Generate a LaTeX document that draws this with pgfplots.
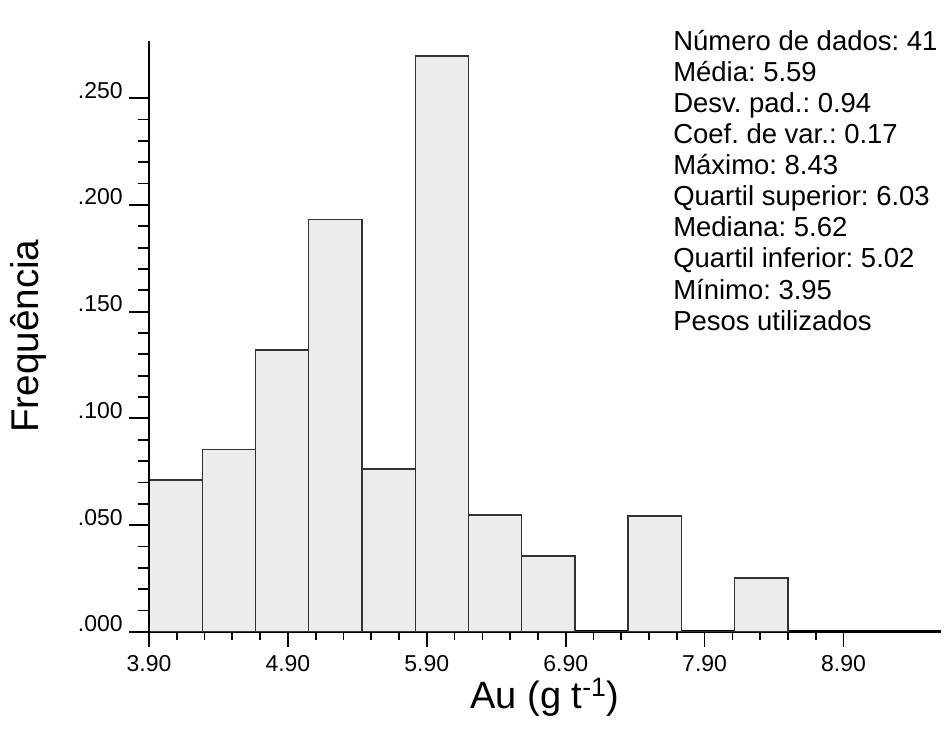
\documentclass[border=0pt]{standalone}
\usepackage{pgfplots}
\pgfplotsset{compat=1.18}
\usepackage{fontspec}
\setmainfont{Liberation Sans}
\frenchspacing
\definecolor{barfill}{RGB}{236,236,236}
\definecolor{baredge}{RGB}{50,50,50}

\begin{document}
\begin{tikzpicture}
\path[use as bounding box] (-111.75pt,-82.7pt) rectangle (596.25pt,473.8pt);

% bars, x axis
\begin{axis}[
  at={(0pt,0pt)}, anchor=south west,
  scale only axis, width=593.8pt, height=443.3pt,
  xmin=3.9, xmax=9.6, ymin=0, ymax=0.277,
  clip=false,
  axis x line*=bottom, axis y line=none,
  x axis line style={line width=2.1pt, black},
  xtick={3.9,4.9,5.9,6.9,7.9,8.9},
  xticklabels={3.90,4.90,5.90,6.90,7.90,8.90},
  minor x tick num=4,
  tick align=outside,
  major tick length=11.25pt, minor tick length=6pt,
  every tick/.style={black, line width=1.3pt},
  xticklabel style={font=\fontsize{17.25pt}{20pt}\selectfont, inner sep=0pt, anchor=north},
  xticklabel shift=6.2pt,
  ytick=\empty,
  xlabel={Au (g t\textsuperscript{-1})},
  xlabel style={font=\fontsize{28.5pt}{32pt}\selectfont, at={(axis description cs:0.5,-0.1108)}, anchor=center},
]
\addplot[ybar interval, fill=barfill, draw=baredge, line width=1.1pt] coordinates {
  (3.9000,0.0711) (4.2833,0.0855) (4.6667,0.1320) (5.0500,0.1933)
  (5.4333,0.0762) (5.8167,0.2699) (6.2000,0.0547) (6.5833,0.0355)
  (6.9667,0.0000) (7.3500,0.0542) (7.7333,0.0000) (8.1167,0.0252)
  (8.5000,0.0000)
};
\end{axis}

% y axis
\begin{axis}[
  at={(0pt,0pt)}, anchor=south west,
  scale only axis, width=593.8pt, height=443.3pt,
  xmin=3.9, xmax=9.6, ymin=0, ymax=0.277,
  axis x line=none, axis y line*=left,
  y axis line style={line width=2.1pt, black},
  xtick=\empty,
  ytick={0,0.05,0.1,0.15,0.2,0.25},
  yticklabels={.000,.050,.100,.150,.200,.250},
  minor y tick num=4,
  tick align=outside,
  major tick length=15pt, minor tick length=8.25pt,
  every tick/.style={black, line width=1.3pt},
  yticklabel style={font=\fontsize{17.25pt}{20pt}\selectfont, inner sep=0pt, anchor=base east},
  yticklabel shift=4.5pt,
  ylabel={Frequência},
  ylabel style={font=\fontsize{29pt}{32pt}\selectfont, at={(axis description cs:-0.1528,0.5)}, anchor=center},
]
\end{axis}

\node[anchor=north west, inner sep=0pt, align=left,
      font=\fontsize{20.6pt}{23.3pt}\selectfont] at (393pt,451.3pt)
  {Número de dados: 41\\Média: 5.59\\Desv. pad.: 0.94\\Coef. de var.: 0.17\\Máximo: 8.43\\Quartil superior: 6.03\\Mediana: 5.62\\Quartil inferior: 5.02\\Mínimo: 3.95\\Pesos utilizados};
\end{tikzpicture}
\end{document}
